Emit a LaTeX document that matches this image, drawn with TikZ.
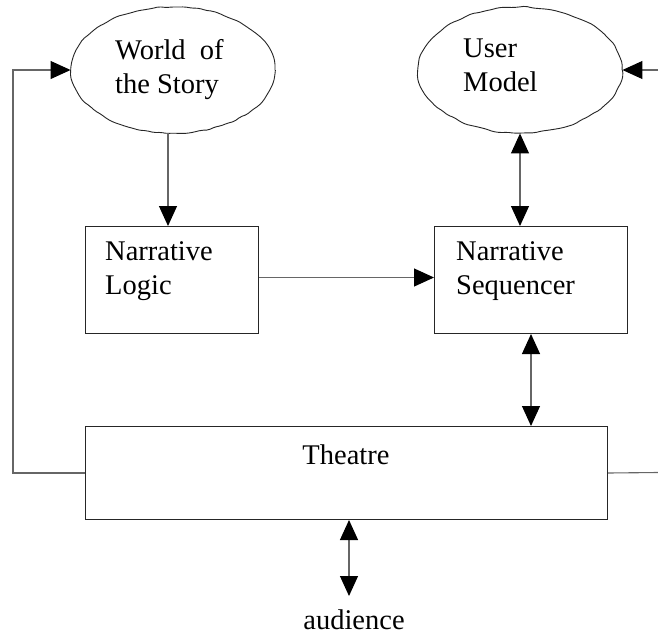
\documentclass[tikz,border=0pt]{standalone}
\usepackage{fontspec}
\setmainfont{Liberation Serif}
\usetikzlibrary{arrows.meta,shapes.geometric,decorations.pathmorphing}

\tikzset{
  txt/.style={font=\fontsize{28.5}{34}\selectfont, inner sep=0pt, align=left},
  cloud/.style={ellipse, draw=black!85, line width=0.9pt, fill=white,
    minimum width=204pt, minimum height=126pt, inner sep=0pt,
    decorate, decoration={random steps, segment length=7pt, amplitude=0.8pt},
    rounded corners=2pt},
  block/.style={rectangle, draw=black!85, line width=1pt, inner sep=0pt},
  conn/.style={draw=black!60, line width=1.1pt},
  tip/.tip={Triangle[length=20pt, width=18pt, color=black]},
  one/.style={conn, -tip},
  both/.style={conn, tip-tip},
}

\begin{document}
\begin{tikzpicture}[x=1pt, y=-1pt]
  \pgfmathsetseed{11}
  \useasboundingbox (0,0) rectangle (658,637);

  % knowledge sources
  \node[cloud] (world) at (173,70) {};
  \node[txt, anchor=north west] (worldtxt) at (115,39) {World~~of\\the Story};
  \node[cloud] (user) at (520,70) {};
  \node[txt, anchor=north west] (usertxt) at (463,39) {User\\Model};

  % processing blocks
  \node[block, anchor=north west, minimum width=173pt, minimum height=107pt] (logic) at (85,226) {};
  \node[txt, anchor=north west] (logictxt) at (105,241) {Narrative\\Logic};
  \node[block, anchor=north west, minimum width=193pt, minimum height=107pt] (seq) at (434,226) {};
  \node[txt, anchor=north west] (seqtxt) at (456,241) {Narrative\\Sequencer};

  \node[block, anchor=north west, minimum width=522pt, minimum height=93pt] (theatre) at (85,426) {};
  \node[txt, anchor=base] (theatretxt) at (346,464) {Theatre};

  \node[txt, anchor=base] (audience) at (354,629) {audience};

  % free ends
  \coordinate (audtop) at (349,596);
  \coordinate (rin) at (658,70);
  \coordinate (rout) at (658,472.5);

  % connectors
  \draw[one] ([xshift=-5pt]world.south) -- ([xshift=-5pt]world.south |- logic.north);
  \draw[one] ([yshift=2.5pt]logic.east) -- ([yshift=2.5pt]logic.east -| seq.west);
  \draw[both] (user.south) -- (user.south |- seq.north);
  \draw[both] (seq.south) -- (seq.south |- theatre.north);
  \draw[both] (theatre.south -| audtop) -- (audtop);
  \draw[one] (theatre.west) -- ++(-72,0) |- (world.west);
  \draw[one] (rin) -- (user.east);
  \draw[conn] (theatre.east) -- (rout);
\end{tikzpicture}
\end{document}
